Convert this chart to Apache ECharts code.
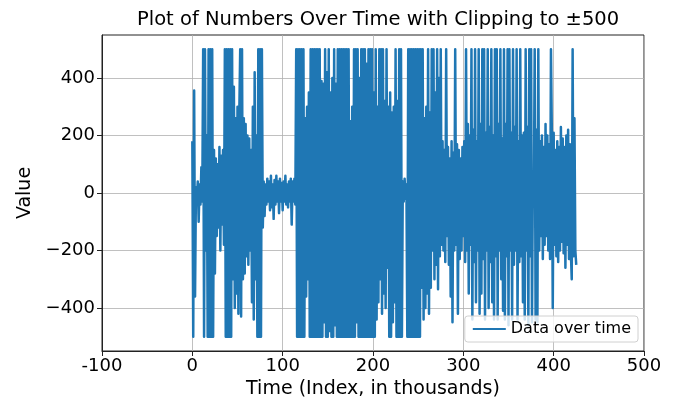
<!DOCTYPE html>
<html>
<head>
<meta charset="utf-8">
<script src="https://cdn.jsdelivr.net/npm/echarts@6/dist/echarts.min.js"></script>
<style>html,body{margin:0;padding:0;background:#fff}#c{width:676px;height:399px}</style>
</head>
<body>
<div id="c"></div>
<script>
// Time index in thousands: one reading per thousand, starting at 0
const timeStart = 0;
const timeStep = 1;
// Values (clipped to ±500), one per thousand
const values = [
  180, -500, 357, -360, 20, -30, 40, -100, 30, -40,
  90, -30, 500, -500, 500, -200, 200, -500, 500, -500,
  500, -500, 500, -500, 150, -280, 120, -150, 100, -120,
  160, -200, 130, -110, 150, -180, 500, -500, 500, -500,
  500, -500, 500, -500, 500, -300, 370, -400, 260, -350,
  300, -420, 280, 500, -430, 500, -300, 260, -280, 240,
  -220, 200, -250, 190, -200, 150, -380, 300, -440, 420,
  -300, 200, -500, 500, -500, 500, -500, 500, -120, 40,
  -80, 30, -40, 50, -30, 40, -60, 60, -50, 30,
  -90, 45, -40, 60, -30, 40, -70, 50, -30, 35,
  -60, 40, -30, 60, -40, 30, -50, 40, -30, 50,
  -110, 40, -30, 50, -40, 500, -500, 500, -500, 500,
  -500, 500, -500, 500, -500, 260, -360, 300, -300, 350,
  -500, 500, -500, 500, -500, 500, -500, 500, -500, 500,
  -500, 500, -500, 390, -500, 380, -450, 500, -500, 420,
  -500, 500, -480, 350, -500, 400, -500, 500, -460, 380,
  -500, 500, -500, 500, -500, 500, -500, 500, -500, 500,
  -500, 500, -500, 500, -500, 250, -500, 300, -500, 500,
  -500, 500, -450, 500, -500, 400, -500, 500, -500, 500,
  -500, 500, -500, 450, -500, 500, -500, 500, -500, 500,
  -500, 350, -500, 500, -440, 300, -380, 500, -300, 500,
  -420, 500, -350, 320, -400, 500, -260, 300, -500, 350,
  -500, 280, -450, 300, -380, 500, -500, 320, -500, 500,
  -500, 500, -500, 40, -30, 50, -20, 30, -500, 500,
  -500, 500, -500, 500, -500, 500, -500, 500, -500, 500,
  -500, 500, -500, 500, -330, 500, -440, 260, -400, 300,
  -350, 500, -420, 280, -330, 500, -200, 500, -300, 350,
  -250, 500, -335, 400, -220, 500, -180, 180, -200, 150,
  -240, 500, -150, 160, -250, 120, -360, 180, -450, 140,
  -200, 500, -180, 170, -420, 150, -230, 120, -200, 160,
  -150, 180, -240, 500, -200, 240, -350, 200, -180, 500,
  -440, 220, -240, 500, -380, 180, -200, 500, -420, 240,
  -350, 500, -230, 500, -440, 210, -200, 500, -400, 230,
  -240, 500, -380, 200, -440, 500, -220, 500, -440, 240,
  -200, 500, -300, 190, -410, 500, -440, 240, -220, 500,
  -460, 500, -200, 210, -440, 500, -250, 230, -200, 500,
  -440, 180, -240, 500, -220, 200, -380, 210, -440, 500,
  -200, 230, -460, 500, -220, 500, -450, 60, -40, 500,
  -440, 220, -450, 500, -200, 180, -150, 200, -230, 160,
  -180, 240, -150, 200, -200, 170, -230, 500, 200, -400,
  210, -180, 150, -220, 180, -240, 160, -200, 230, -170,
  190, -210, 160, -260, 200, -180, 220, -230, 170, -200,
  -300, 500, -220, 260, -200, -250
];
const xTicks = [-100, 0, 100, 200, 300, 400, 500];
const yTicks = [-400, -200, 0, 200, 400];
const titleText = 'Plot of Numbers Over Time with Clipping to ±500';
const seriesName = 'Data over time';

const data = values.map((v, i) => [timeStart + i * timeStep, v]);
const font = 'DejaVu Sans';
const chart = echarts.init(document.getElementById('c'), null, {renderer: 'canvas'});
chart.setOption({
  animation: false,
  backgroundColor: '#fff',
  title: {
    text: titleText, left: 132, top: 5,
    textStyle: {fontFamily: font, fontSize: 19.5, fontWeight: 'normal', color: '#000'}
  },
  grid: {left: 102, right: 32, top: 35, bottom: 48, show: true, borderColor: '#222', borderWidth: 1,
    backgroundColor: 'transparent', containLabel: false, outerBoundsMode: 'none'},
  legend: {
    right: 38, bottom: 57, orient: 'horizontal',
    itemWidth: 33, itemHeight: 2, itemGap: 8,
    padding: [5, 7, 5, 7],
    backgroundColor: 'rgba(255,255,255,0.8)', borderColor: '#d0d0d0', borderWidth: 1, borderRadius: 3,
    textStyle: {fontFamily: font, fontSize: 16, color: '#000'},
    data: [seriesName]
  },
  xAxis: {
    type: 'value', min: -100, max: 500, interval: 100,
    name: 'Time (Index, in thousands)', nameLocation: 'middle', nameGap: 24,
    nameTextStyle: {fontFamily: font, fontSize: 19, color: '#000'},
    axisLine: {show: true, onZero: false, lineStyle: {color: '#222', width: 1}},
    axisTick: {show: true, inside: false, length: 5, lineStyle: {color: '#222'}, customValues: xTicks},
    axisLabel: {fontFamily: font, fontSize: 18, color: '#000', margin: 6, customValues: xTicks, formatter: v => String(v)},
    splitLine: {show: true, lineStyle: {color: '#b0b0b0', width: 0.8}}
  },
  yAxis: {
    type: 'value', min: -550, max: 550,
    name: 'Value', nameLocation: 'middle', nameGap: 60, nameRotate: 90,
    nameTextStyle: {fontFamily: font, fontSize: 19, color: '#000'},
    axisLine: {show: true, onZero: false, lineStyle: {color: '#222', width: 1}},
    axisTick: {show: true, inside: false, length: 5, lineStyle: {color: '#222'}, customValues: yTicks},
    axisLabel: {fontFamily: font, fontSize: 18, color: '#000', margin: 7, customValues: yTicks,
      formatter: v => (v < 0 ? '\u2212' + Math.abs(v) : String(v))},
    splitLine: {show: true, lineStyle: {color: '#b0b0b0', width: 0.8}}
  },
  series: [{
    name: seriesName, type: 'line', data: data,
    showSymbol: false, symbol: 'none', sampling: null,
    lineStyle: {color: '#1f77b4', width: 2.5, join: 'round'},
    itemStyle: {color: '#1f77b4'}
  }]
});
</script>
</body>
</html>
